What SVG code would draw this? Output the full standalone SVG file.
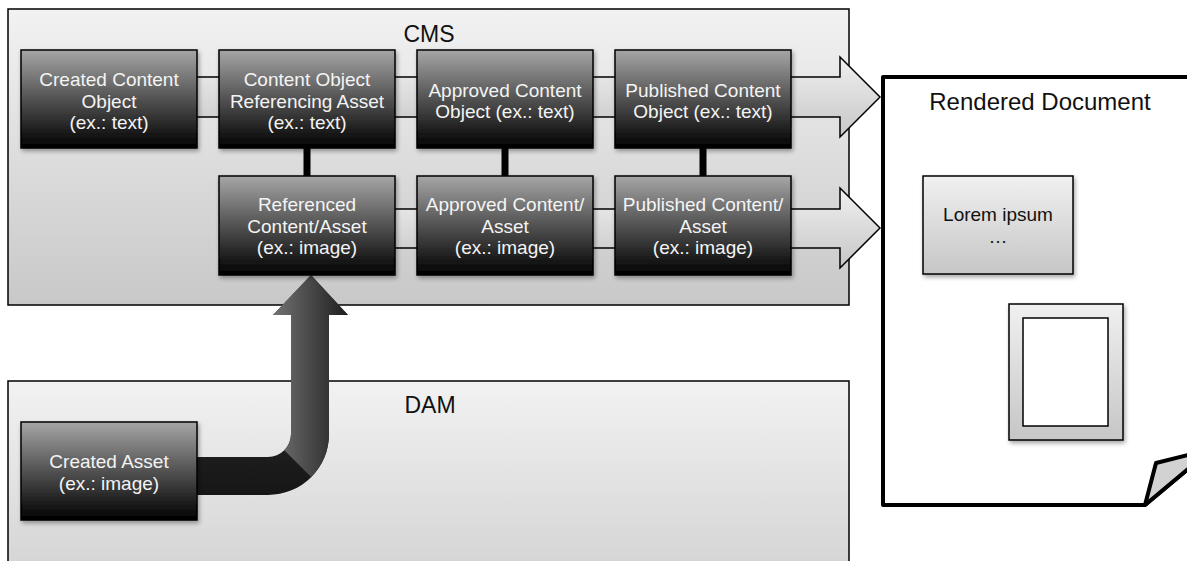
<svg xmlns="http://www.w3.org/2000/svg" width="1187" height="561" viewBox="0 0 1187 561">
  <style>
    .container { stroke: #000; stroke-width: 1.5; }
    .node { fill: url(#nodeFill); stroke: #000; stroke-width: 1.5; filter: url(#shadow); }
    .node-text { font-family: "Liberation Sans", Arial, sans-serif; font-size: 19px; fill: #f4f4f4; text-anchor: middle; }
    .title { font-family: "Liberation Sans", Arial, sans-serif; font-size: 23px; fill: #111; text-anchor: middle; }
    .doc-text { font-family: "Liberation Sans", Arial, sans-serif; font-size: 19px; fill: #111; text-anchor: middle; }
    .flow { stroke: #000; stroke-width: 1.5; stroke-linejoin: miter; }
    .link { fill: #000; }
    .light { stroke: #000; stroke-width: 1.5; filter: url(#shadow); }
  </style>
  <defs>
    <linearGradient id="nodeFill" x1="0" y1="0" x2="0" y2="1">
      <stop offset="0" stop-color="#a6a6a6"/>
      <stop offset="0.5" stop-color="#525252"/>
      <stop offset="1" stop-color="#000"/>
    </linearGradient>
    <linearGradient id="cmsFill" x1="0" y1="0" x2="0" y2="1">
      <stop offset="0" stop-color="#f2f2f2"/>
      <stop offset="1" stop-color="#c8c8c8"/>
    </linearGradient>
    <linearGradient id="damFill" x1="0" y1="381" x2="0" y2="650" gradientUnits="userSpaceOnUse">
      <stop offset="0" stop-color="#f2f2f2"/>
      <stop offset="1" stop-color="#c8c8c8"/>
    </linearGradient>
    <linearGradient id="lightFill" x1="0" y1="0" x2="0" y2="1">
      <stop offset="0" stop-color="#f0f0f0"/>
      <stop offset="1" stop-color="#c6c6c6"/>
    </linearGradient>
    <linearGradient id="pipeDark" x1="0" y1="0" x2="0" y2="1">
      <stop offset="0" stop-color="#3a3a3a"/>
      <stop offset="1" stop-color="#161616"/>
    </linearGradient>
    <linearGradient id="pipeRise" x1="273" y1="0" x2="348" y2="0" gradientUnits="userSpaceOnUse">
      <stop offset="0" stop-color="#737373"/>
      <stop offset="0.3" stop-color="#595959"/>
      <stop offset="1" stop-color="#1e1e1e"/>
    </linearGradient>
    <filter id="shadow" x="-10%" y="-10%" width="125%" height="130%">
      <feDropShadow dx="1.5" dy="2.5" stdDeviation="2" flood-color="#000" flood-opacity="0.35"/>
    </filter>
  </defs>

  <!-- system containers -->
  <g id="cms">
    <rect class="container" x="8" y="9" width="841" height="296" fill="url(#cmsFill)"/>
    <text class="title" x="429" y="42">CMS</text>
  </g>
  <g id="dam">
    <rect class="container" x="8" y="381" width="841" height="200" fill="url(#damFill)"/>
    <text class="title" x="430" y="413">DAM</text>
  </g>

  <!-- connectors -->
  <g id="connectors">
    <!-- block arrows carrying each row to the document -->
    <path class="flow" fill="url(#lightFill)" d="M190,77 H840 V57 L880,97 L840,137 V117 H190 Z"/>
    <path class="flow" fill="url(#lightFill)" d="M390,209 H840 V188 L880,228 L840,268 V248 H390 Z"/>
    <!-- references between text and image objects -->
    <rect class="link" x="303.5" y="148" width="7" height="28"/>
    <rect class="link" x="501.5" y="148" width="7" height="28"/>
    <rect class="link" x="699.5" y="148" width="7" height="28"/>
    <!-- asset hand-off from DAM into CMS -->
    <path fill="url(#pipeDark)" d="M192,457 H268 A23,23 0 0 0 291,434 V315 H273 L311,275 L348,315 H329 V434 A61,61 0 0 1 268,495 H192 Z"/>
    <path fill="url(#pipeRise)" d="M291,434 V315 H273 L311,275 L348,315 H329 V434 A61,61 0 0 1 311.1,477.1 L284.3,450.3 A23,23 0 0 0 291,434 Z"/>
  </g>

  <!-- CMS row 1: text objects -->
  <g id="created-content">
    <rect class="node" x="21" y="50" width="176" height="98"/>
    <text class="node-text" x="109" y="86">Created Content</text>
    <text class="node-text" x="109" y="107.5">Object</text>
    <text class="node-text" x="109" y="129">(ex.: text)</text>
  </g>
  <g id="referencing-content">
    <rect class="node" x="219" y="50" width="176" height="98"/>
    <text class="node-text" x="307" y="86">Content Object</text>
    <text class="node-text" x="307" y="107.5">Referencing Asset</text>
    <text class="node-text" x="307" y="129">(ex.: text)</text>
  </g>
  <g id="approved-content">
    <rect class="node" x="417" y="50" width="176" height="98"/>
    <text class="node-text" x="505" y="96.5">Approved Content</text>
    <text class="node-text" x="505" y="118">Object (ex.: text)</text>
  </g>
  <g id="published-content">
    <rect class="node" x="615" y="50" width="176" height="98"/>
    <text class="node-text" x="703" y="96.5">Published Content</text>
    <text class="node-text" x="703" y="118">Object (ex.: text)</text>
  </g>

  <!-- CMS row 2: assets -->
  <g id="referenced-asset">
    <rect class="node" x="219" y="176" width="176" height="99"/>
    <text class="node-text" x="307" y="211">Referenced</text>
    <text class="node-text" x="307" y="232.5">Content/Asset</text>
    <text class="node-text" x="307" y="254">(ex.: image)</text>
  </g>
  <g id="approved-asset">
    <rect class="node" x="417" y="176" width="176" height="99"/>
    <text class="node-text" x="505" y="211">Approved Content/</text>
    <text class="node-text" x="505" y="232.5">Asset</text>
    <text class="node-text" x="505" y="254">(ex.: image)</text>
  </g>
  <g id="published-asset">
    <rect class="node" x="615" y="176" width="176" height="99"/>
    <text class="node-text" x="703" y="211">Published Content/</text>
    <text class="node-text" x="703" y="232.5">Asset</text>
    <text class="node-text" x="703" y="254">(ex.: image)</text>
  </g>

  <!-- DAM -->
  <g id="created-asset">
    <rect class="node" x="21" y="422" width="176" height="98"/>
    <text class="node-text" x="109" y="468">Created Asset</text>
    <text class="node-text" x="109" y="490">(ex.: image)</text>
  </g>

  <!-- output page -->
  <g id="rendered-document">
    <path d="M1200,77 H883 V505 H1145 L1200,459" fill="#fff" stroke="#000" stroke-width="4" stroke-linejoin="round"/>
    <path d="M1145,505 L1156,463 L1200,452 V459 Z" fill="#d2d2d2" stroke="#000" stroke-width="4" stroke-linejoin="round"/>
    <text x="1040" y="110" font-family="Liberation Sans, Arial, sans-serif" font-size="24" fill="#111" text-anchor="middle">Rendered Document</text>
    <g id="lorem-block">
      <rect class="light" x="923" y="176" width="150" height="98" fill="url(#lightFill)"/>
      <text class="doc-text" x="998" y="221">Lorem ipsum</text>
      <text class="doc-text" x="998" y="243" font-size="16">…</text>
    </g>
    <g id="image-frame">
      <rect class="light" x="1009" y="304" width="114" height="136" fill="url(#lightFill)"/>
      <rect x="1023" y="318" width="85" height="108" fill="#fff" stroke="#000" stroke-width="1.5"/>
    </g>
  </g>
</svg>
